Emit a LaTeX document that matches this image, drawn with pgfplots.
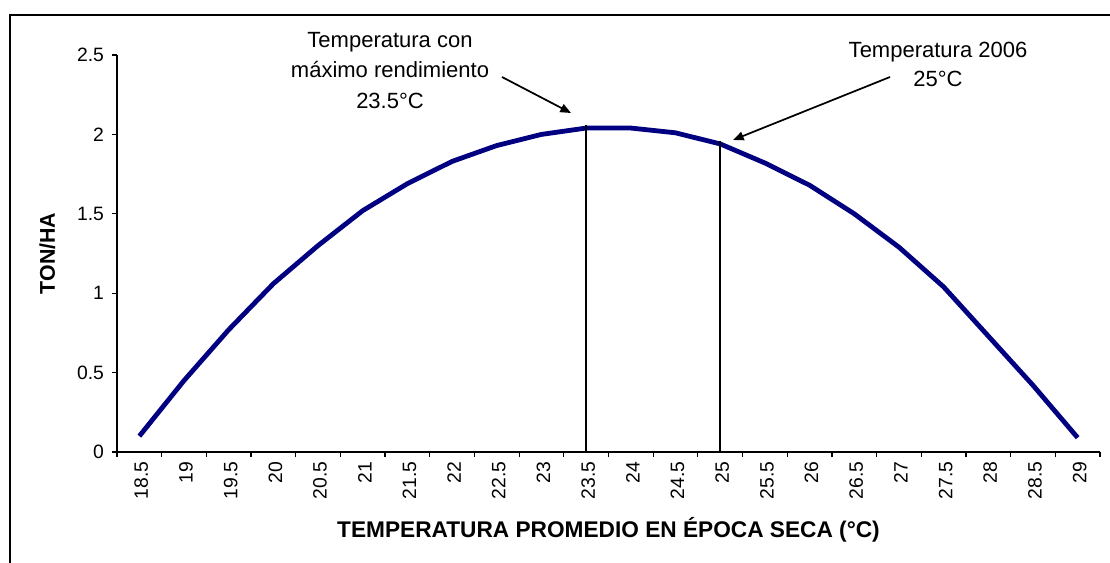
\documentclass[border=0pt]{standalone}
\usepackage{pgfplots}
\pgfplotsset{compat=1.18}
\usepackage{fontspec}
\setmainfont{Liberation Sans}
\usetikzlibrary{arrows.meta}
\definecolor{navyline}{RGB}{0,0,128}
\begin{document}
\begin{tikzpicture}[x=0.75pt,y=0.75pt]
\path[use as bounding box] (0,0) rectangle (1110,562);
\draw[line width=1.4pt] (10,-10) -- (10,547) -- (1120,547);
\begin{axis}[
  at={(87.75pt,82.5pt)}, anchor=south west,
  scale only axis, width=737.25pt, height=297.75pt,
  xmin=-0.5, xmax=21.5, ymin=0, ymax=2.5,
  axis x line*=bottom, axis y line*=left,
  xtick={-0.5,0.5,...,21.5},
  x tick label as interval,
  xticklabels={18.5,19,19.5,20,20.5,21,21.5,22,22.5,23,23.5,24,24.5,25,25.5,26,26.5,27,27.5,28,28.5,29},
  ytick={0,0.5,1,1.5,2,2.5},
  yticklabels={0,0.5,1,1.5,2,2.5},
  tick align=outside,
  major tick length=3.75pt,
  tick style={black, line width=0.9pt},
  axis line style={black, line width=0.9pt},
  x tick label style={rotate=90, anchor=east, yshift=-1.5pt, font=\fontsize{14.5}{14.5}\selectfont},
  y tick label style={xshift=-2.5pt, font=\fontsize{14.5}{14.5}\selectfont},
  /pgf/number format/assume math mode=true,
  xlabel={TEMPERATURA PROMEDIO EN ÉPOCA SECA (°C)},
  xlabel style={at={(axis description cs:0.5,-0.2141)}, anchor=base, font=\bfseries\fontsize{17}{17}\selectfont},
  ylabel={TON/HA},
  ylabel style={at={(axis description cs:-0.0631,0.5)}, anchor=base, font=\bfseries\fontsize{16}{16}\selectfont},
  clip=false,
]
\addplot[navyline, line width=3.6pt, line join=round] coordinates {
  (0,0.10) (1,0.45) (2,0.77) (3,1.06) (4,1.30) (5,1.52) (6,1.69) (7,1.83)
  (8,1.93) (9,2.00) (10,2.04) (11,2.04) (12,2.01) (13,1.94) (14,1.82)
  (15,1.68) (16,1.50) (17,1.29) (18,1.04) (19,0.73) (20,0.42) (21,0.09)
};
\addplot[black, line width=1.4pt] coordinates {(10,0) (10,2.06)};
\addplot[black, line width=1.4pt] coordinates {(13,0) (13,1.96)};
\end{axis}
\begin{scope}[every node/.style={font=\fontsize{16.5}{16.5}\selectfont, anchor=base, inner sep=0pt}]
\node at (390,514) {Temperatura con};
\node at (390,484) {máximo rendimiento};
\node at (390,454) {23.5°C};
\node at (938,504) {Temperatura 2006};
\node at (938,475) {25°C};
\end{scope}
\draw[line width=1.3pt, -{Triangle[length=8pt,width=6.5pt]}] (502,485) -- (571,449);
\draw[line width=1.3pt, -{Triangle[length=8pt,width=6.5pt]}] (890,485) -- (733,422);
\end{tikzpicture}
\end{document}
